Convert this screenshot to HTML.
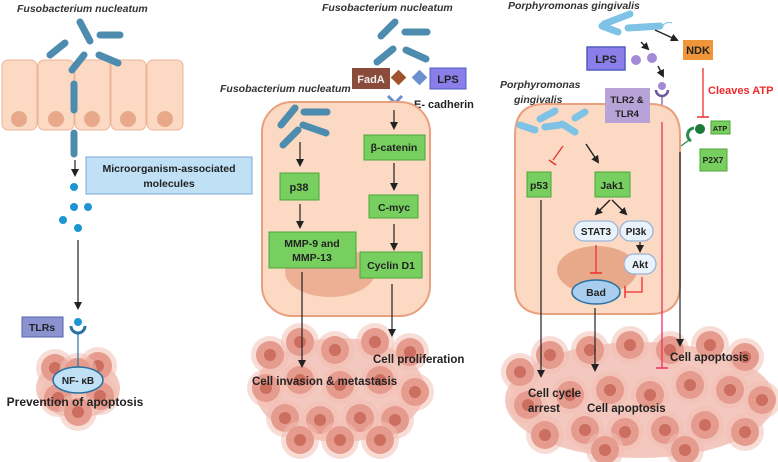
<!DOCTYPE html>
<html><head><meta charset="utf-8"><style>
html,body{margin:0;padding:0;background:#fff;}
svg{display:block;font-family:"Liberation Sans",sans-serif;}
.b{font-weight:bold;fill:#222;}
.it{font-style:italic;font-weight:bold;fill:#333;font-size:10.5px;}
</style></head><body>
<svg width="778" height="462" viewBox="0 0 778 462" xmlns="http://www.w3.org/2000/svg">
<defs>
<marker id="ah" markerWidth="8" markerHeight="8" refX="6" refY="4" orient="auto" markerUnits="userSpaceOnUse"><path d="M0,0 L8,4 L0,8 Z" fill="#222"/></marker>
<g id="tc">
 <circle r="19" fill="#f2c0b5" opacity="0.55"/>
 <circle r="14" fill="#e59b8d"/>
 <circle r="6" fill="#cc6e60"/>
</g>
</defs>

<!-- LEFT PANEL -->
<text x="17" y="12" class="it">Fusobacterium nucleatum</text>
<g fill="#fbd9c2" stroke="#eeb49a" stroke-width="1">
 <rect x="2" y="60" width="35" height="70" rx="6"/>
 <rect x="38" y="60" width="36" height="70" rx="6"/>
 <rect x="75" y="60" width="35" height="70" rx="6"/>
 <rect x="111" y="60" width="35" height="70" rx="6"/>
 <rect x="147" y="60" width="36" height="70" rx="6"/>
</g>
<g fill="#e8a98a"><circle cx="19" cy="119" r="8"/><circle cx="56" cy="119" r="8"/><circle cx="92" cy="119" r="8"/><circle cx="128" cy="119" r="8"/><circle cx="165" cy="119" r="8"/></g>
<g stroke="#4d8cae" stroke-width="7" stroke-linecap="round">
 <line x1="50" y1="55" x2="65" y2="43"/><line x1="80" y1="22" x2="90" y2="41"/>
 <line x1="100" y1="35" x2="120" y2="35"/><line x1="99" y1="55" x2="118" y2="63"/>
 <line x1="84" y1="55" x2="72" y2="70"/><line x1="74" y1="84" x2="74" y2="110"/>
 <line x1="74" y1="133" x2="74" y2="154"/>
</g>
<line x1="75" y1="160" x2="75" y2="175" stroke="#222" stroke-width="1.2" marker-end="url(#ah)"/>
<rect x="86" y="157" width="166" height="37" fill="#bfe0f5" stroke="#7ea6d6"/>
<text x="169" y="172" text-anchor="middle" class="b" font-size="10.5">Microorganism-associated</text>
<text x="169" y="187" text-anchor="middle" class="b" font-size="10.5">molecules</text>
<g fill="#1c96d2"><circle cx="74" cy="187" r="4"/><circle cx="74" cy="207" r="4"/><circle cx="88" cy="207" r="4"/><circle cx="63" cy="220" r="4"/><circle cx="78" cy="228" r="4"/></g>
<line x1="78" y1="240" x2="78" y2="308" stroke="#222" stroke-width="1.2" marker-end="url(#ah)"/>
<rect x="22" y="317" width="41" height="20" fill="#8a93d0" stroke="#5561a8"/>
<text x="42" y="331" text-anchor="middle" class="b" font-size="10.5">TLRs</text>
<circle cx="78" cy="322" r="4" fill="#1c96d2"/>
<path d="M71,326 A7,7 0 0 0 85,326" fill="none" stroke="#2a70a0" stroke-width="3"/>
<g>
 <ellipse cx="78" cy="388" rx="42" ry="30" fill="#eeb0a4" opacity="0.7"/>
 <use href="#tc" x="55" y="368"/><use href="#tc" x="98" y="366"/><use href="#tc" x="58" y="398"/>
 <use href="#tc" x="100" y="396"/><use href="#tc" x="78" y="412"/><use href="#tc" x="78" y="372"/>
</g>
<line x1="78" y1="333" x2="78" y2="366" stroke="#2a70a0" stroke-width="1.2"/>
<ellipse cx="78" cy="380" rx="25" ry="13" fill="#bfe0f5" stroke="#2a70a0" stroke-width="1.5"/>
<text x="78" y="384" text-anchor="middle" class="b" font-size="10">NF- κB</text>
<text x="75" y="406" text-anchor="middle" class="b" font-size="12">Prevention of apoptosis</text>

<!-- MIDDLE PANEL -->
<text x="322" y="11" class="it">Fusobacterium nucleatum</text>
<g stroke="#4d8cae" stroke-width="7" stroke-linecap="round">
 <line x1="381" y1="36" x2="395" y2="22"/><line x1="405" y1="32" x2="427" y2="32"/>
 <line x1="377" y1="62" x2="393" y2="49"/><line x1="406" y1="50" x2="426" y2="59"/>
</g>
<rect x="352" y="68" width="38" height="21" fill="#8a4b3b"/>
<text x="371" y="83" text-anchor="middle" font-weight="bold" font-size="11" fill="#eee">FadA</text>
<rect x="393" y="72" width="11" height="11" fill="#a0522d" transform="rotate(45 398.5 77.5)"/>
<rect x="414" y="72" width="11" height="11" fill="#6c8fd0" transform="rotate(45 419.5 77.5)"/>
<rect x="430" y="68" width="36" height="21" fill="#8c7ee8" stroke="#4e5fc0"/>
<text x="448" y="83" text-anchor="middle" class="b" font-size="11">LPS</text>
<text x="220" y="92" class="it">Fusobacterium nucleatum</text>
<path d="M388,96 L395,103 L402,96" fill="none" stroke="#6c8fd0" stroke-width="3"/>
<text x="414" y="108" class="b" font-size="11" font-weight="normal">E- cadherin</text>
<rect x="262" y="102" width="168" height="214" rx="30" fill="#fbd9c2" stroke="#e8a07f" stroke-width="2"/>
<ellipse cx="330" cy="272" rx="45" ry="25" fill="#eeb095"/>
<g stroke="#4d8cae" stroke-width="7" stroke-linecap="round">
 <line x1="281" y1="125" x2="295" y2="108"/><line x1="304" y1="112" x2="327" y2="112"/>
 <line x1="283" y1="145" x2="298" y2="130"/><line x1="303" y1="125" x2="326" y2="133"/>
</g>
<line x1="300" y1="142" x2="300" y2="165" stroke="#222" stroke-width="1.2" marker-end="url(#ah)"/>
<rect x="280" y="173" width="39" height="27" fill="#77cf5f" stroke="#4da63a"/>
<text x="299" y="191" text-anchor="middle" class="b" font-size="11">p38</text>
<line x1="300" y1="204" x2="300" y2="227" stroke="#222" stroke-width="1.2" marker-end="url(#ah)"/>
<rect x="269" y="232" width="87" height="36" fill="#77cf5f" stroke="#4da63a"/>
<text x="312" y="247" text-anchor="middle" class="b" font-size="10.5">MMP-9 and</text>
<text x="312" y="261" text-anchor="middle" class="b" font-size="10.5">MMP-13</text>
<line x1="394" y1="110" x2="394" y2="128" stroke="#222" stroke-width="1.2" marker-end="url(#ah)"/>
<rect x="364" y="135" width="61" height="25" fill="#77cf5f" stroke="#4da63a"/>
<text x="394" y="151" text-anchor="middle" class="b" font-size="10.5">β-catenin</text>
<line x1="394" y1="163" x2="394" y2="189" stroke="#222" stroke-width="1.2" marker-end="url(#ah)"/>
<rect x="369" y="195" width="49" height="23" fill="#77cf5f" stroke="#4da63a"/>
<text x="394" y="211" text-anchor="middle" class="b" font-size="10.5">C-myc</text>
<line x1="394" y1="224" x2="394" y2="249" stroke="#222" stroke-width="1.2" marker-end="url(#ah)"/>
<rect x="360" y="252" width="62" height="26" fill="#77cf5f" stroke="#4da63a"/>
<text x="391" y="269" text-anchor="middle" class="b" font-size="10.5">Cyclin D1</text>
<g>
 <ellipse cx="340" cy="390" rx="85" ry="52" fill="#eeb0a4" opacity="0.7"/>
 <use href="#tc" x="270" y="355"/><use href="#tc" x="300" y="342"/><use href="#tc" x="335" y="350"/>
 <use href="#tc" x="375" y="342"/><use href="#tc" x="410" y="352"/><use href="#tc" x="266" y="388"/>
 <use href="#tc" x="300" y="380"/><use href="#tc" x="340" y="385"/><use href="#tc" x="380" y="380"/>
 <use href="#tc" x="415" y="392"/><use href="#tc" x="285" y="418"/><use href="#tc" x="320" y="420"/>
 <use href="#tc" x="360" y="418"/><use href="#tc" x="395" y="420"/><use href="#tc" x="340" y="440"/>
 <use href="#tc" x="300" y="440"/><use href="#tc" x="380" y="440"/>
</g>
<line x1="302" y1="272" x2="302" y2="366" stroke="#222" stroke-width="1.2" marker-end="url(#ah)"/>
<line x1="392" y1="284" x2="392" y2="335" stroke="#222" stroke-width="1.2" marker-end="url(#ah)"/>
<text x="373" y="363" class="b" font-size="11.5">Cell proliferation</text>
<text x="252" y="385" class="b" font-size="11.5">Cell invasion &amp; metastasis</text>

<!-- RIGHT PANEL -->
<text x="508" y="9" class="it">Porphyromonas gingivalis</text>
<g stroke="#7ec3e6" stroke-width="7" stroke-linecap="round" fill="none">
 <line x1="604" y1="24" x2="630" y2="14"/><line x1="602" y1="26" x2="618" y2="32"/>
 <line x1="628" y1="28" x2="660" y2="26"/>
</g>
<path d="M662,26 q5,-5 10,-3" stroke="#7ec3e6" fill="none"/>
<line x1="655" y1="30" x2="677" y2="40" stroke="#222" stroke-width="1.4" marker-end="url(#ah)"/>
<line x1="641" y1="42" x2="648" y2="49" stroke="#222" stroke-width="1.4" marker-end="url(#ah)"/>
<rect x="587" y="47" width="38" height="23" fill="#8c7ee8" stroke="#4e5fc0" stroke-width="1.5"/>
<text x="606" y="63" text-anchor="middle" class="b" font-size="11">LPS</text>
<circle cx="636" cy="60" r="5" fill="#a28ad6"/><circle cx="652" cy="58" r="5" fill="#a28ad6"/>
<line x1="658" y1="66" x2="663" y2="76" stroke="#222" stroke-width="1.4" marker-end="url(#ah)"/>
<circle cx="662" cy="86" r="4" fill="#a28ad6"/>
<path d="M656,90 A6,6 0 0 0 668,90" fill="none" stroke="#6a5a9a" stroke-width="2.5"/>
<line x1="662" y1="96" x2="662" y2="110" stroke="#6a5a9a" stroke-width="1.2"/>
<rect x="683" y="40" width="30" height="20" fill="#f0953a"/>
<text x="698" y="54" text-anchor="middle" class="b" font-size="11">NDK</text>
<text x="708" y="94" font-weight="bold" font-size="11" fill="#ee2a2a">Cleaves ATP</text>
<line x1="703" y1="68" x2="703" y2="117" stroke="#ee3030" stroke-width="1.3"/>
<line x1="697" y1="117" x2="709" y2="117" stroke="#ee3030" stroke-width="1.5"/>
<text x="500" y="88" class="it" font-size="10.5">Porphyromonas</text>
<text x="514" y="103" class="it" font-size="10.5">gingivalis</text>
<path d="M515,135 Q515,104 545,104 L650,104 Q680,104 680,135 L680,285 Q680,314 650,314 L545,314 Q515,314 515,285 Z" fill="#fbd9c2" stroke="#e8a07f" stroke-width="2"/>
<rect x="605" y="88" width="45" height="35" fill="#b7a3d8"/>
<text x="627" y="103" text-anchor="middle" class="b" font-size="9.5">TLR2 &amp;</text>
<text x="627" y="117" text-anchor="middle" class="b" font-size="9.5">TLR4</text>
<g stroke="#7ec3e6" stroke-width="7" stroke-linecap="round">
 <line x1="540" y1="119" x2="555" y2="111"/><line x1="520" y1="125" x2="535" y2="130"/>
 <line x1="545" y1="127" x2="560" y2="125"/><line x1="562" y1="124" x2="575" y2="132"/>
 <line x1="575" y1="118" x2="585" y2="112"/>
</g>
<line x1="563" y1="146" x2="553" y2="160" stroke="#ee3030" stroke-width="1.3"/>
<line x1="549" y1="160" x2="556" y2="165" stroke="#ee3030" stroke-width="1.5"/>
<line x1="586" y1="144" x2="598" y2="162" stroke="#222" stroke-width="1.4" marker-end="url(#ah)"/>
<rect x="527" y="172" width="24" height="25" fill="#77cf5f" stroke="#4da63a"/>
<text x="539" y="189" text-anchor="middle" class="b" font-size="10.5">p53</text>
<rect x="595" y="172" width="35" height="25" fill="#77cf5f" stroke="#4da63a"/>
<text x="612" y="189" text-anchor="middle" class="b" font-size="10.5">Jak1</text>
<ellipse cx="597" cy="270" rx="40" ry="24" fill="#e8a98a"/>
<line x1="610" y1="200" x2="596" y2="214" stroke="#222" stroke-width="1.4" marker-end="url(#ah)"/>
<line x1="612" y1="200" x2="626" y2="214" stroke="#222" stroke-width="1.4" marker-end="url(#ah)"/>
<rect x="574" y="221" width="44" height="20" rx="10" fill="#eaf3fb" stroke="#9ab3d8" stroke-width="1.3"/>
<text x="596" y="235" text-anchor="middle" class="b" font-size="10">STAT3</text>
<rect x="620" y="221" width="33" height="20" rx="10" fill="#eaf3fb" stroke="#9ab3d8" stroke-width="1.3"/>
<text x="636" y="235" text-anchor="middle" class="b" font-size="10">PI3k</text>
<line x1="640" y1="242" x2="640" y2="251" stroke="#222" stroke-width="1.2" marker-end="url(#ah)"/>
<rect x="624" y="254" width="32" height="20" rx="10" fill="#eaf3fb" stroke="#9ab3d8" stroke-width="1.3"/>
<text x="640" y="268" text-anchor="middle" class="b" font-size="10">Akt</text>
<line x1="596" y1="245" x2="596" y2="273" stroke="#ee3030" stroke-width="1.3"/>
<line x1="590" y1="273" x2="602" y2="273" stroke="#ee3030" stroke-width="1.5"/>
<path d="M642,277 L642,292 L625,292" fill="none" stroke="#ee3030" stroke-width="1.3"/>
<line x1="625" y1="286" x2="625" y2="298" stroke="#ee3030" stroke-width="1.5"/>
<ellipse cx="596" cy="292" rx="24" ry="12" fill="#a9cdee" stroke="#2a70a0" stroke-width="1.5"/>
<text x="596" y="296" text-anchor="middle" class="b" font-size="10.5">Bad</text>
<rect x="711" y="121" width="19" height="13" fill="#77cf5f" stroke="#4da63a"/>
<text x="720" y="131" text-anchor="middle" class="b" font-size="7.5">ATP</text>
<circle cx="700" cy="129" r="5" fill="#1a7a3a"/>
<path d="M694,128 A7,7 0 0 0 691,141" fill="none" stroke="#2a8a4a" stroke-width="3"/>
<line x1="689" y1="140" x2="681" y2="146" stroke="#2a8a4a" stroke-width="1.3"/>
<rect x="700" y="149" width="27" height="22" fill="#77cf5f" stroke="#4da63a"/>
<text x="713" y="163" text-anchor="middle" class="b" font-size="8.5">P2X7</text>
<g>
 <ellipse cx="640" cy="400" rx="135" ry="58" fill="#eeb0a4" opacity="0.7"/>
 <use href="#tc" x="520" y="372"/><use href="#tc" x="550" y="355"/><use href="#tc" x="590" y="350"/>
 <use href="#tc" x="630" y="345"/><use href="#tc" x="670" y="350"/><use href="#tc" x="710" y="345"/>
 <use href="#tc" x="745" y="357"/><use href="#tc" x="528" y="405"/><use href="#tc" x="570" y="395"/>
 <use href="#tc" x="610" y="390"/><use href="#tc" x="650" y="395"/><use href="#tc" x="690" y="385"/>
 <use href="#tc" x="730" y="390"/><use href="#tc" x="762" y="400"/><use href="#tc" x="545" y="435"/>
 <use href="#tc" x="585" y="430"/><use href="#tc" x="625" y="432"/><use href="#tc" x="665" y="430"/>
 <use href="#tc" x="705" y="425"/><use href="#tc" x="745" y="432"/><use href="#tc" x="605" y="450"/>
 <use href="#tc" x="685" y="450"/>
</g>
<line x1="662" y1="122" x2="662" y2="368" stroke="#ee3060" stroke-width="1.3"/>
<line x1="656" y1="368" x2="668" y2="368" stroke="#ee3060" stroke-width="1.5"/>
<line x1="541" y1="200" x2="541" y2="376" stroke="#222" stroke-width="1.2" marker-end="url(#ah)"/>
<line x1="595" y1="308" x2="595" y2="370" stroke="#222" stroke-width="1.2" marker-end="url(#ah)"/>
<line x1="680" y1="152" x2="680" y2="345" stroke="#222" stroke-width="1.2" marker-end="url(#ah)"/>
<text x="670" y="361" class="b" font-size="11.5">Cell apoptosis</text>
<text x="528" y="397" class="b" font-size="11.5">Cell cycle</text>
<text x="528" y="412" class="b" font-size="11.5">arrest</text>
<text x="587" y="412" class="b" font-size="11.5">Cell apoptosis</text>
</svg>
</body></html>
